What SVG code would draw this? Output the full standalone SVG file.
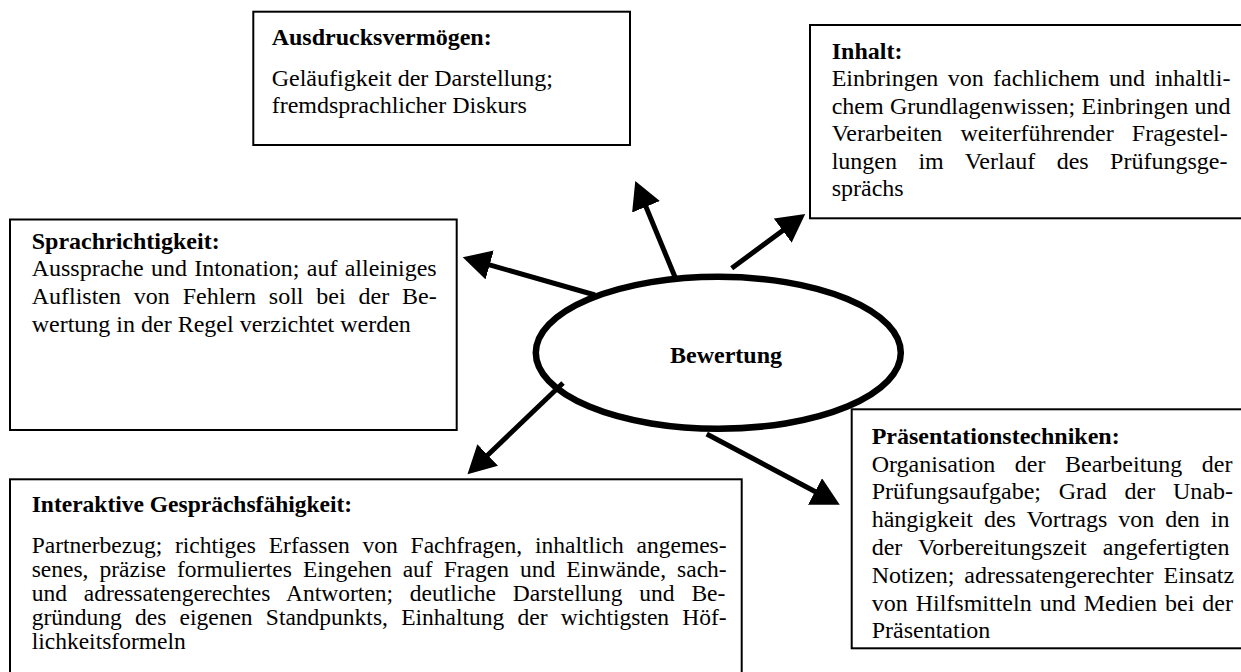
<svg xmlns="http://www.w3.org/2000/svg" width="1241" height="672" viewBox="0 0 1241 672">
<style>
  .box { fill: #ffffff; stroke: #000000; stroke-width: 2; }
  .t { font-family: "Liberation Serif", "Times New Roman", serif; font-size: 24px; fill: #000000; }
  .h { font-weight: bold; }
  .ti { font-size: 23.5px; }
  .conn { stroke: #000000; stroke-width: 5; fill: none; marker-end: url(#ah); }
</style>
<defs>
  <marker id="ah" markerUnits="userSpaceOnUse" markerWidth="30" markerHeight="30" refX="1" refY="15" orient="auto">
    <path d="M0,0 L28,15 L0,30 Z" fill="#000000"/>
  </marker>
</defs>
<rect width="1241" height="672" fill="#ffffff"/>

<g id="ausdruck">
  <rect class="box" x="253.3" y="11.7" width="376.7" height="133.3"/>
  <text class="t h" x="271.7" y="45">Ausdrucksvermögen:</text>
  <text class="t" x="271.7" y="86">Geläufigkeit der Darstellung;</text>
  <text class="t" x="271.7" y="112.5">fremdsprachlicher Diskurs</text>
</g>

<g id="inhalt">
  <rect class="box" x="810" y="25" width="440" height="193.3"/>
  <text class="t h" x="831.7" y="58.5">Inhalt:</text>
  <text class="t" x="831.7" y="86" word-spacing="3.37">Einbringen von fachlichem und inhaltli-</text>
  <text class="t" x="831.7" y="113.5" word-spacing="0.29">chem Grundlagenwissen; Einbringen und</text>
  <text class="t" x="831.7" y="141" word-spacing="12.14">Verarbeiten weiterführender Fragestel-</text>
  <text class="t" x="831.7" y="168.5" word-spacing="15.38">lungen im Verlauf des Prüfungsge-</text>
  <text class="t" x="831.7" y="196">sprächs</text>
</g>

<g id="sprach">
  <rect class="box" x="10" y="219.5" width="446.7" height="210.5"/>
  <text class="t h" x="31.7" y="248.5">Sprachrichtigkeit:</text>
  <text class="t" x="31.7" y="276.3" word-spacing="1.27">Aussprache und Intonation; auf alleiniges</text>
  <text class="t" x="31.7" y="304" word-spacing="6.84">Auflisten von Fehlern soll bei der Be-</text>
  <text class="t" x="31.7" y="331.7">wertung in der Regel verzichtet werden</text>
</g>

<g id="praesentation">
  <rect class="box" x="851.7" y="409.3" width="400" height="239"/>
  <text class="t h" x="871.7" y="443.5">Präsentationstechniken:</text>
  <text class="t" x="871.7" y="471.5" word-spacing="13.57">Organisation der Bearbeitung der</text>
  <text class="t" x="871.7" y="499.3" word-spacing="11.8">Prüfungsaufgabe; Grad der Unab-</text>
  <text class="t" x="871.7" y="527.1" word-spacing="4.94">hängigkeit des Vortrags von den in</text>
  <text class="t" x="871.7" y="554.9" word-spacing="10.03">der Vorbereitungszeit angefertigten</text>
  <text class="t" x="871.7" y="582.7" word-spacing="3.97">Notizen; adressatengerechter Einsatz</text>
  <text class="t" x="871.7" y="610.5" word-spacing="2">von Hilfsmitteln und Medien bei der</text>
  <text class="t" x="871.7" y="638.3">Präsentation</text>
</g>

<g id="interaktiv">
  <rect class="box" x="10" y="479.3" width="731.7" height="200"/>
  <text class="t ti h" x="31.7" y="511.7">Interaktive Gesprächsfähigkeit:</text>
  <text class="t ti" x="31.7" y="552.5" word-spacing="6.95">Partnerbezug; richtiges Erfassen von Fachfragen, inhaltlich angemes-</text>
  <text class="t ti" x="31.7" y="576.7" word-spacing="5.14">senes, präzise formuliertes Eingehen auf Fragen und Einwände, sach-</text>
  <text class="t ti" x="31.7" y="600.9" word-spacing="10.98">und adressatengerechtes Antworten; deutliche Darstellung und Be-</text>
  <text class="t ti" x="31.7" y="625.1" word-spacing="7.35">gründung des eigenen Standpunkts, Einhaltung der wichtigsten Höf-</text>
  <text class="t ti" x="31.7" y="649.3">lichkeitsformeln</text>
</g>

<g id="bewertung">
  <ellipse cx="718.3" cy="352.8" rx="182.5" ry="76" fill="#ffffff" stroke="#000000" stroke-width="6.5"/>
  <text class="t h" x="726" y="363" text-anchor="middle">Bewertung</text>
</g>

<g id="connectors">
  <line class="conn" x1="595" y1="295" x2="488.7" y2="264.7"/>
  <line class="conn" x1="675" y1="277" x2="645.6" y2="205.9"/>
  <line class="conn" x1="731.7" y1="268.3" x2="783.5" y2="230"/>
  <line class="conn" x1="563" y1="383" x2="487" y2="455.7"/>
  <line class="conn" x1="706.7" y1="434" x2="815.9" y2="492"/>
</g>
</svg>
